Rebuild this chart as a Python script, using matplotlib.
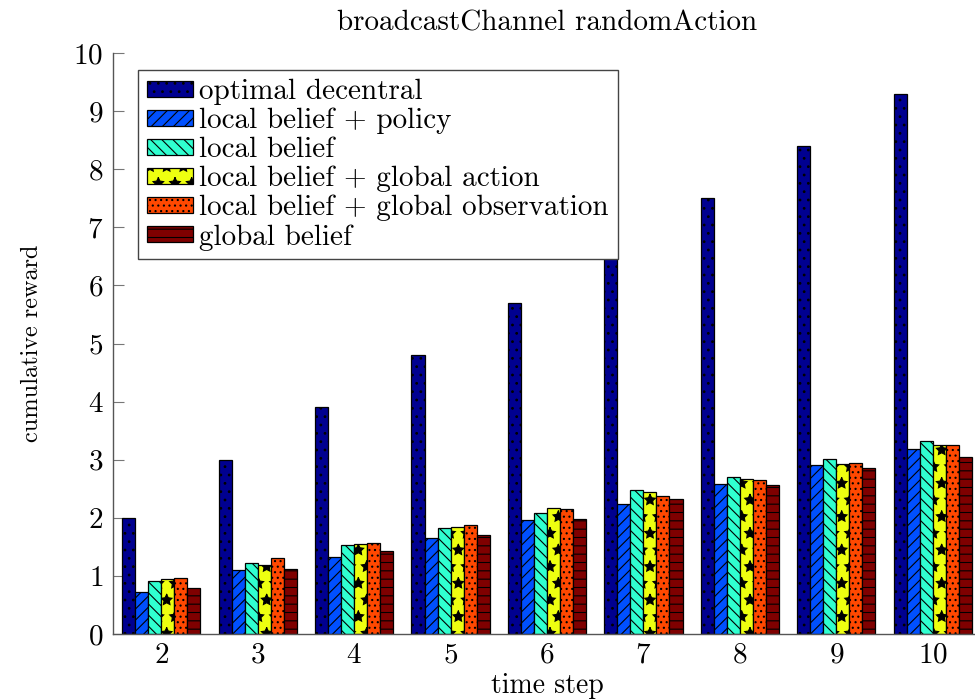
import matplotlib
matplotlib.use("Agg")
import matplotlib.pyplot as plt
import numpy as np

plt.rcParams['font.family'] = ['cmr10', 'DejaVu Serif']
plt.rcParams['mathtext.fontset'] = 'cm'
plt.rcParams['axes.formatter.use_mathtext'] = True
plt.rcParams['hatch.color'] = 'black'
plt.rcParams['hatch.linewidth'] = 0.8

time_steps = [2, 3, 4, 5, 6, 7, 8, 9, 10]
series_names = [
    "optimal decentral",
    "local belief + policy",
    "local belief",
    "local belief + global action",
    "local belief + global observation",
    "global belief",
]
optimal_decentral = [2.0, 3.0, 3.9, 4.8, 5.7, 6.6, 7.5, 8.4, 9.3]
local_belief_policy = [0.73, 1.10, 1.32, 1.65, 1.96, 2.23, 2.59, 2.91, 3.19]
local_belief = [0.91, 1.22, 1.53, 1.82, 2.09, 2.47, 2.71, 3.02, 3.32]
local_belief_global_action = [0.94, 1.18, 1.55, 1.85, 2.17, 2.45, 2.66, 2.93, 3.25]
local_belief_global_obs = [0.96, 1.30, 1.57, 1.88, 2.15, 2.38, 2.65, 2.94, 3.25]
global_belief = [0.80, 1.12, 1.42, 1.71, 1.98, 2.32, 2.57, 2.85, 3.05]

series = [optimal_decentral, local_belief_policy, local_belief,
          local_belief_global_action, local_belief_global_obs, global_belief]
colors = ['#000090', '#0050FF', '#30FFD0', '#EEFF10', '#FF4800', '#7F0000']
hatches = ['..', '///', '\\\\\\', '*', '...', '--']

W, H = 975, 700
fig = plt.figure(figsize=(W / 100, H / 100), dpi=100)
ax = fig.add_axes([113 / W, (H - 634) / H, (981 - 113) / W, (634 - 53) / H])

x = np.array(time_steps, dtype=float)
bw = 0.135
for i, (vals, name, c, h) in enumerate(zip(series, series_names, colors, hatches)):
    ax.bar(x + (i - 2.5) * bw, vals, width=bw, color=c, edgecolor='black',
           linewidth=0.9, hatch=h, label=name, zorder=2)

ax.set_xlim(1.5, 10.5)
ax.set_ylim(0, 10)
ax.set_xticks(time_steps)
ax.set_yticks(range(0, 11))
for s in ['top', 'right']:
    ax.spines[s].set_visible(False)
for s in ['left', 'bottom']:
    ax.spines[s].set_color('#555555')
    ax.spines[s].set_linewidth(1.0)
ax.tick_params(axis='y', direction='in', length=8, color='#777777', labelsize=21, pad=7)
ax.tick_params(axis='x', length=0, labelsize=21, pad=6)

ax.set_title("broadcastChannel randomAction", fontsize=21, pad=16)
ax.set_xlabel("time step", fontsize=20, labelpad=3)
ax.set_ylabel("cumulative reward", fontsize=17.5, labelpad=22)

leg = ax.legend(loc='upper left', bbox_to_anchor=(25 / 868, (634 - 70) / 581),
                borderaxespad=0, fontsize=21, handlelength=1.58, handleheight=0.45,
                handletextpad=0.22, labelspacing=0.09, borderpad=0.3,
                fancybox=False, framealpha=1, edgecolor='#444444')
leg.get_frame().set_linewidth(1.0)

fig.savefig("out.png", dpi=100)
